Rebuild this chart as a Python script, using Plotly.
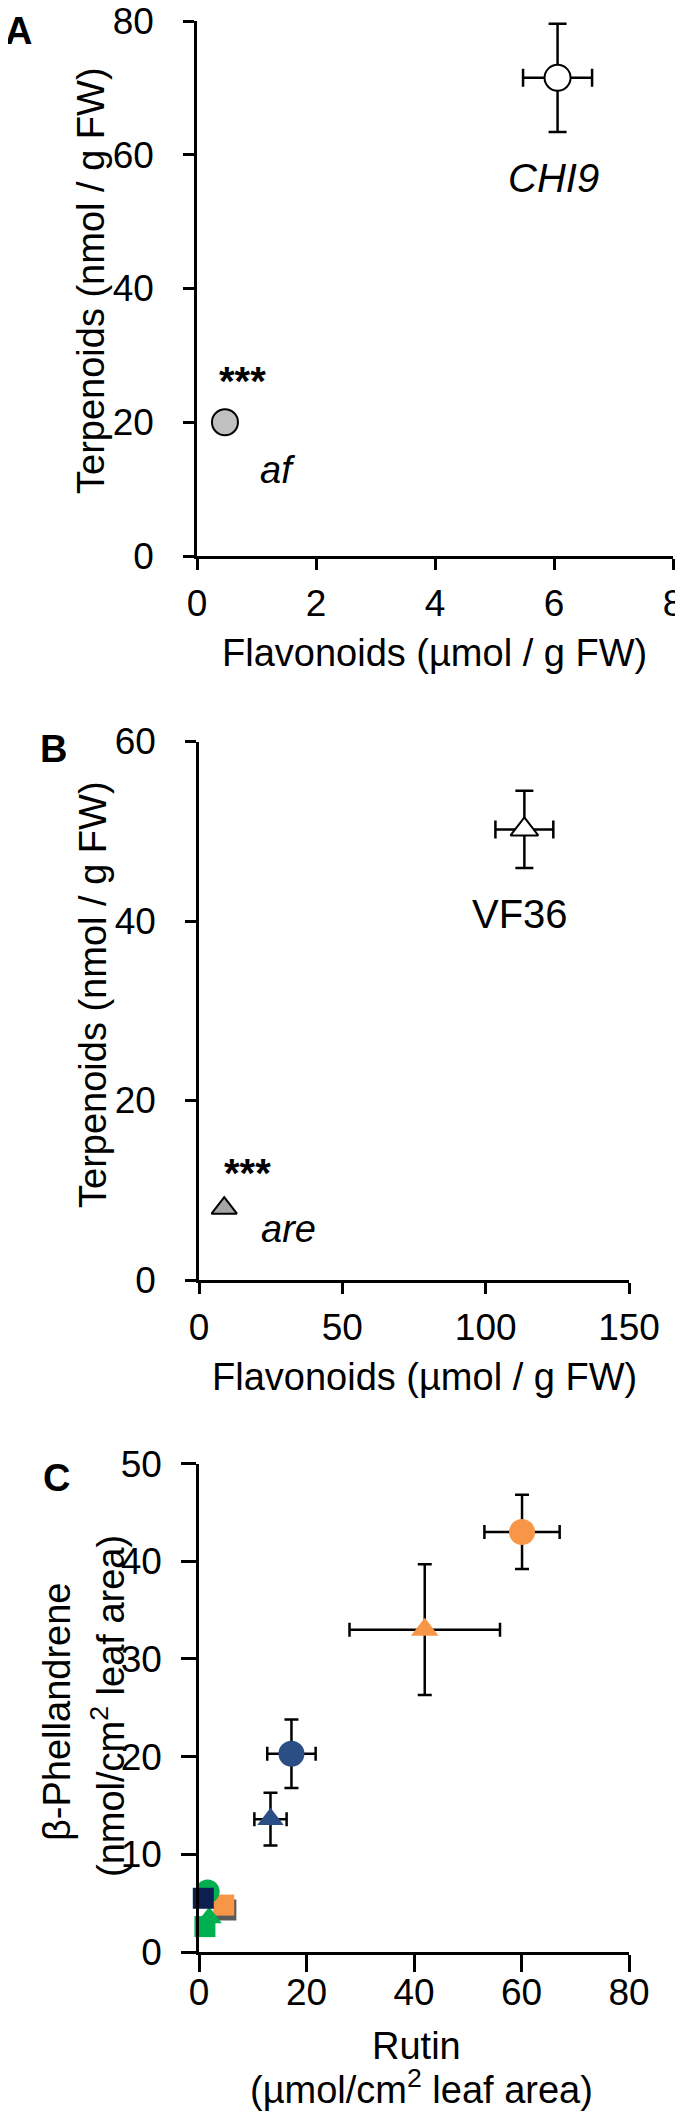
import plotly.graph_objects as go

# Panel A: CHI9 vs af
a_names = ['CHI9', 'af']
a_flav = [6.06, 0.47]
a_flav_err = [0.58, 0.0]
a_terp = [71.5, 20.0]
a_terp_err = [8.1, 0.0]

# Panel B: VF36 vs are
b_names = ['VF36', 'are']
b_flav = [113.5, 8.8]
b_flav_err = [10.1, 0.0]
b_terp = [50.2, 8.0]
b_terp_err = [4.3, 0.0]

# Panel C: rutin vs beta-phellandrene
c_names = ['gray square', 'orange square', 'green circle', 'green triangle',
           'green square', 'navy square', 'navy triangle', 'navy circle',
           'orange triangle', 'orange circle']
c_rutin = [5.0, 4.6, 1.6, 1.9, 1.1, 0.8, 13.3, 17.2, 42.0, 60.1]
c_rutin_err = [0, 0, 0, 0, 0, 0, 3.0, 4.5, 14.0, 7.0]
c_phell = [4.3, 4.8, 6.2, 3.5, 2.6, 5.5, 13.6, 20.3, 33.0, 43.0]
c_phell_err = [0, 0, 0, 0, 0, 0, 2.7, 3.5, 6.7, 3.8]

FONT = 'Arial, Liberation Sans, sans-serif'
ORANGE = '#f79646'
NAVY = '#2b4f85'
DARK = '#0d1f50'
GREEN = '#00b050'
GRAY = '#5a5a5a'
W, H = 683, 2112
OFF = 8  # the page body keeps its default 8px margin


def px(x):
    return (x - OFF) / W


def py(y):
    return 1 - (y - OFF) / H


a_style = [dict(symbol='circle', color='white', size=26),
           dict(symbol='circle', color='#c0c0c0', size=26)]
b_style = [dict(symbol='triangle-up', color='white', size=24),
           dict(symbol='triangle-up', color='#a6a6a6', size=22)]
c_style = [dict(symbol='square', color=GRAY, size=21),
           dict(symbol='square', color=ORANGE, size=21),
           dict(symbol='circle', color=GREEN, size=24),
           dict(symbol='triangle-up', color=GREEN, size=22),
           dict(symbol='square', color=GREEN, size=21),
           dict(symbol='square', color=DARK, size=21),
           dict(symbol='triangle-up', color=NAVY, size=23),
           dict(symbol='circle', color=NAVY, size=26),
           dict(symbol='triangle-up', color=ORANGE, size=24),
           dict(symbol='circle', color=ORANGE, size=26)]

fig = go.Figure()


def add_points(xs, xe, ys, ye, names, styles, axis, cap, outline):
    for i in range(len(xs)):
        st = styles[i]
        fig.add_trace(go.Scatter(
            x=[xs[i]], y=[ys[i]], name=names[i], mode='markers',
            xaxis='x' + axis, yaxis='y' + axis, cliponaxis=False,
            marker=dict(symbol=st['symbol'], color=st['color'], size=st['size'],
                        line=dict(color='black', width=2 if outline else 0)),
            error_x=dict(type='data', array=[xe[i]], visible=xe[i] > 0,
                         color='black', thickness=2.5, width=cap),
            error_y=dict(type='data', array=[ye[i]], visible=ye[i] > 0,
                         color='black', thickness=2.5, width=cap),
        ))


add_points(a_flav, a_flav_err, a_terp, a_terp_err, a_names, a_style, '', 9, True)
add_points(b_flav, b_flav_err, b_terp, b_terp_err, b_names, b_style, '2', 9, True)
add_points(c_rutin, c_rutin_err, c_phell, c_phell_err, c_names, c_style, '3', 7, False)


def axis(domain, rng, dtick, anchor, standoff, ticklen=11):
    return dict(domain=domain, range=rng, dtick=dtick, anchor=anchor,
                automargin=False, ticklabeloverflow='allow',
                showline=True, linecolor='black', linewidth=2.5,
                ticks='outside', ticklen=ticklen, tickwidth=2.5, tickcolor='black',
                showgrid=False, zeroline=False, ticklabelstandoff=standoff,
                tickfont=dict(size=37, color='black', family=FONT))


fig.update_layout(
    width=W, height=H,
    margin=dict(l=0, r=0, t=0, b=0),
    plot_bgcolor='white', paper_bgcolor='white',
    showlegend=False,
    font=dict(family=FONT, color='black'),
    xaxis=axis([px(197), px(673)], [0, 8], 2, 'y', 2),
    yaxis=axis([py(556), py(21)], [0, 80], 20, 'x', 22),
    xaxis2=axis([px(199), px(629)], [0, 150], 50, 'y2', 2),
    yaxis2=axis([py(1280), py(741.5)], [0, 60], 20, 'x2', 22),
    xaxis3=axis([px(199), px(629)], [0, 80], 20, 'y3', -11, ticklen=17),
    yaxis3=axis([py(1952), py(1463.6)], [0, 50], 10, 'x3', 12, ticklen=15),
)

notes = [
    # panel letters
    dict(text='<b>A</b>', x=px(18), y=py(31), xref='paper', yref='paper', size=38),
    dict(text='<b>B</b>', x=px(53), y=py(749), xref='paper', yref='paper', size=38),
    dict(text='<b>C</b>', x=px(56), y=py(1478), xref='paper', yref='paper', size=38),
    # axis titles
    dict(text='Terpenoids (nmol / g FW)', x=px(91), y=py(281),
         xref='paper', yref='paper', size=38, angle=-90),
    dict(text='Flavonoids (µmol / g FW)', x=px(434), y=py(653),
         xref='paper', yref='paper', size=38),
    dict(text='Terpenoids (nmol / g FW)', x=px(93), y=py(995),
         xref='paper', yref='paper', size=38, angle=-90),
    dict(text='Flavonoids (µmol / g FW)', x=px(424), y=py(1377),
         xref='paper', yref='paper', size=38),
    dict(text='β-Phellandrene', x=px(57), y=py(1712),
         xref='paper', yref='paper', size=38, angle=-90),
    dict(text='(nmol/cm<sup>2</sup> leaf area)', x=px(108), y=py(1706),
         xref='paper', yref='paper', size=38, angle=-90),
    dict(text='Rutin', x=px(416), y=py(2046), xref='paper', yref='paper', size=38),
    dict(text='(µmol/cm<sup>2</sup> leaf area)', x=px(421), y=py(2087),
         xref='paper', yref='paper', size=38),
    # point labels
    dict(text='<b>***</b>', x=0.77, y=26.2, xref='x', yref='y', size=40),
    dict(text='<i>af</i>', x=1.35, y=12.9, xref='x', yref='y', size=38),
    dict(text='<i>CHI9</i>', x=5.99, y=56.5, xref='x', yref='y', size=40),
    dict(text='<b>***</b>', x=16.8, y=11.9, xref='x2', yref='y2', size=40),
    dict(text='<i>are</i>', x=31.2, y=5.7, xref='x2', yref='y2', size=38),
    dict(text='VF36', x=111.9, y=40.8, xref='x2', yref='y2', size=40),
]
for n in notes:
    fig.add_annotation(text=n['text'], x=n['x'], y=n['y'], xref=n['xref'], yref=n['yref'],
                       xanchor='center', yanchor='middle',
                       showarrow=False, textangle=n.get('angle', 0),
                       font=dict(size=n['size'], family=FONT, color='black'))

fig.write_html("out.html")
